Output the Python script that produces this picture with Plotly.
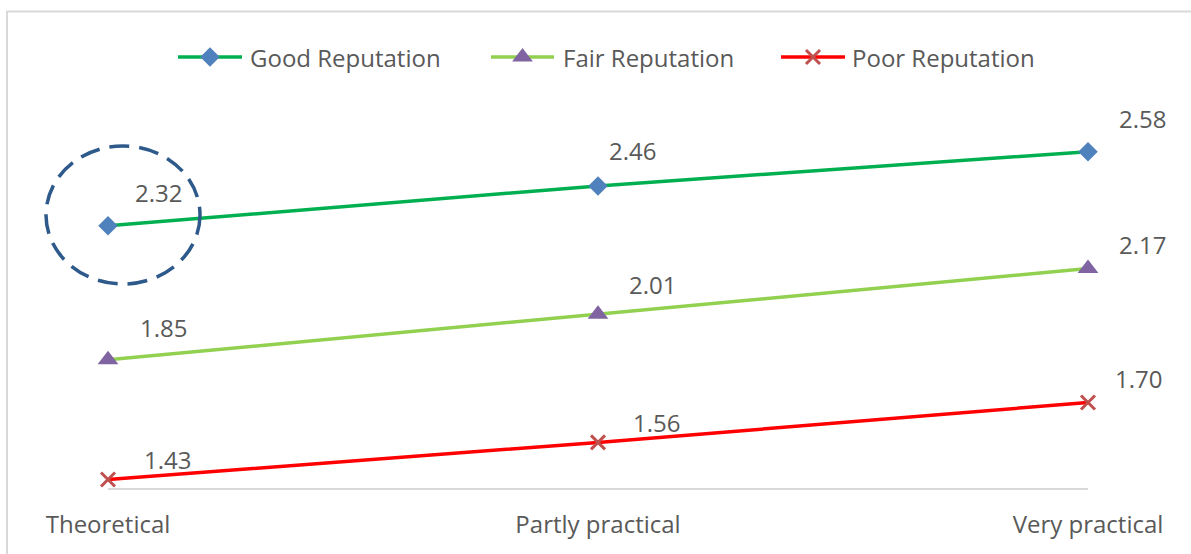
import plotly.graph_objects as go

# ---- data ----
categories = ["Theoretical", "Partly practical", "Very practical"]
series_names = ["Good Reputation", "Fair Reputation", "Poor Reputation"]
good = [2.32, 2.46, 2.58]
fair = [1.85, 2.01, 2.17]
poor = [1.43, 1.56, 1.70]
series_values = [good, fair, poor]

# ---- styles ----
line_colors = ["#00B050", "#92D050", "#FF0000"]
marker_colors = ["#4F81BD", "#8064A2", "#C0504D"]
marker_symbols = ["diamond", "triangle-up", "x-thin"]
marker_sizes = [15, 18, 14]
# label offsets (px right, px up) per series/point
label_dx = [[50, 34, 54], [55, 54, 54], [59, 58, 50]]
label_dy = [[33, 35, 33], [32, 30, 24], [20, 20, 24]]

W, H = 1191, 554
L, R, B = 108, 103, 66
T_DATA = 146          # pixel row where y = 2.6
T = 11                # top of drawing area (border line)
Y_MIN = 1.4
PX_PER_UNIT = (H - B - T_DATA) / (2.6 - Y_MIN)
Y_MAX = Y_MIN + (H - B - T) / PX_PER_UNIT
PW, PH = W - L - R, H - T - B
TEXT = "#595959"
FONT = "Open Sans"
FS = 24


def px(x):
    return (x - L) / PW


def py(y):
    return (H - B - y) / PH


fig = go.Figure()


def marker_style(i):
    mk = dict(color=marker_colors[i], size=marker_sizes[i], symbol=marker_symbols[i])
    if marker_symbols[i].startswith("x-thin"):
        mk["line"] = dict(color=marker_colors[i], width=3)
    return mk


for i, name in enumerate(series_names):
    fig.add_trace(go.Scatter(
        x=categories, y=series_values[i], name=name, mode="lines+markers",
        line=dict(color=line_colors[i], width=3.5), marker=marker_style(i),
        cliponaxis=False, showlegend=False, hoverinfo="skip"))

annotations = []
for i, vals in enumerate(series_values):
    for j, v in enumerate(vals):
        annotations.append(dict(
            x=categories[j], y=v, xref="x", yref="y", text=f"{v:.2f}",
            showarrow=False, xshift=label_dx[i][j], yshift=label_dy[i][j],
            font=dict(family=FONT, size=FS, color=TEXT)))

# ---- manual legend ----
leg_line_x = [(178, 242), (491, 554), (781, 845)]
leg_text_x = [248, 561, 850]
leg_y = 57
shapes = []
for i, name in enumerate(series_names):
    x0, x1 = leg_line_x[i]
    shapes.append(dict(type="line", xref="paper", yref="paper",
                       x0=px(x0), x1=px(x1), y0=py(leg_y), y1=py(leg_y),
                       line=dict(color=line_colors[i], width=3.5), layer="below"))
    annotations.append(dict(x=px(leg_text_x[i]), y=py(leg_y), xref="paper", yref="paper",
                            text=name, showarrow=False, xanchor="left", yanchor="middle",
                            font=dict(family=FONT, size=FS, color=TEXT)))
    fig.add_trace(go.Scatter(
        x=[(x0 + x1) / 2], y=[leg_y], xaxis="x2", yaxis="y2", mode="markers",
        marker=marker_style(i), cliponaxis=False, showlegend=False, hoverinfo="skip"))

# chart border
shapes.append(dict(type="rect", xref="paper", yref="paper",
                   x0=px(7), x1=px(W + 20), y0=py(H + 20), y1=py(11.5),
                   line=dict(color="#D9D9D9", width=2), layer="below"))
# dashed highlight ellipse around first point
shapes.append(dict(type="circle", xref="paper", yref="paper",
                   x0=px(46), x1=px(200), y0=py(284), y1=py(146),
                   line=dict(color="#2E5A8B", width=3.5, dash="20px,10px")))

fig.update_layout(
    width=W, height=H,
    margin=dict(l=L, r=R, t=T, b=B),
    paper_bgcolor="white", plot_bgcolor="white",
    showlegend=False,
    font=dict(family=FONT, size=FS, color=TEXT),
    xaxis=dict(type="category", range=[0, len(categories) - 1], showgrid=False,
               zeroline=False, showline=True, linecolor="#D9D9D9", linewidth=1.5,
               ticks="outside", ticklen=14, tickcolor="rgba(0,0,0,0)",
               tickfont=dict(family=FONT, size=FS, color=TEXT), fixedrange=True),
    yaxis=dict(range=[Y_MIN, Y_MAX], visible=False, fixedrange=True),
    xaxis2=dict(overlaying="x", range=[L, W - R], visible=False, fixedrange=True),
    yaxis2=dict(overlaying="y", range=[H - B, T], visible=False, fixedrange=True),
    shapes=shapes,
    annotations=annotations,
)

fig.write_html("out.html")
